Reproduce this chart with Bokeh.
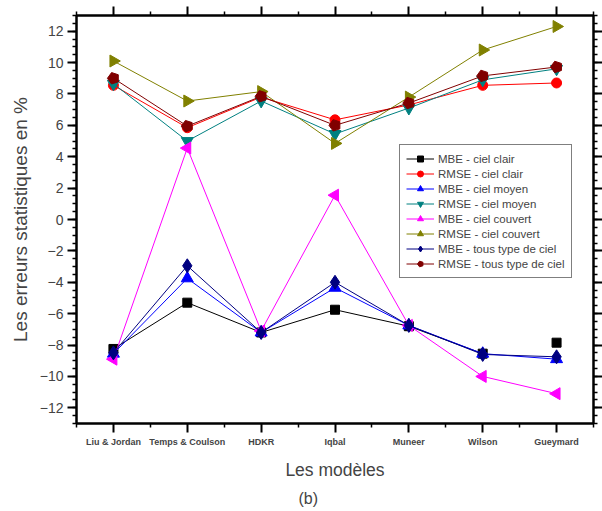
import math
from bokeh.plotting import figure
from bokeh.models import LinearAxis, FixedTicker, Range1d, Legend, LegendItem, Title
from bokeh.embed import file_html
from bokeh.resources import INLINE

models = ["Liu & Jordan", "Temps & Coulson", "HDKR", "Iqbal", "Muneer", "Wilson", "Gueymard"]
mbe_clair = [-8.25, -5.3, -7.2, -5.75, -6.8, -8.55, -7.85]
rmse_clair = [8.55, 5.85, 7.8, 6.35, 7.3, 8.55, 8.7]
mbe_moyen = [-8.55, -3.75, -7.2, -4.35, -6.75, -8.55, -8.9]
rmse_moyen = [8.65, 5.0, 7.55, 5.45, 7.1, 8.9, 9.6]
mbe_couvert = [-8.9, 4.55, -7.1, 1.55, -6.75, -10.0, -11.1]
rmse_couvert = [10.1, 7.55, 8.15, 4.85, 7.8, 10.8, 12.3]
mbe_tous = [-8.5, -2.95, -7.2, -4.0, -6.75, -8.6, -8.75]
rmse_tous = [9.0, 5.95, 7.85, 6.0, 7.42, 9.15, 9.72]

x = list(range(1, len(models) + 1))
FONT = "Liberation Sans"

p = figure(width=602, height=511, output_backend="svg", toolbar_location=None,
           x_range=Range1d(0.5, 7.5), y_range=Range1d(-13, 13),
           min_border_left=76, min_border_right=9, min_border_top=15, min_border_bottom=88,
           background_fill_color="white", border_fill_color="white")
p.grid.visible = False
p.outline_line_color = "black"
p.outline_line_width = 2

xt = FixedTicker(ticks=x, minor_ticks=[i + 0.5 for i in range(0, 8)])
yt = FixedTicker(ticks=list(range(-12, 13, 2)), minor_ticks=[v / 2 for v in range(-26, 27)])


def style_axis(ax, labels=True):
    ax.axis_line_width = 2
    ax.major_tick_line_width = 2
    ax.minor_tick_line_width = 1.5
    ax.major_tick_out = 9
    ax.major_tick_in = 0
    ax.minor_tick_out = 4
    ax.minor_tick_in = 0
    if not labels:
        ax.major_label_text_font_size = "1px"
        ax.major_label_text_color = None
        ax.major_label_standoff = 0


xa = p.xaxis[0]
xa.ticker = xt
style_axis(xa)
xa.major_label_overrides = {i: m for i, m in zip(x, models)}
xa.major_label_text_font = FONT
xa.major_label_text_font_style = "bold"
xa.major_label_text_font_size = "9px"
xa.major_label_standoff = 4
xa.axis_label = "Les modèles"
xa.axis_label_text_font = FONT
xa.axis_label_text_font_style = "normal"
xa.axis_label_text_font_size = "17.5px"
xa.axis_label_standoff = 10

ya = p.yaxis[0]
ya.ticker = yt
style_axis(ya)
ya.major_label_text_font = FONT
ya.major_label_text_font_size = "14px"
ya.major_label_standoff = 4
ya.axis_label = "Les erreurs statistiques en %"
ya.axis_label_text_font = FONT
ya.axis_label_text_font_style = "normal"
ya.axis_label_text_font_size = "19px"
ya.axis_label_standoff = 6

top = LinearAxis(ticker=xt)
style_axis(top, labels=False)
p.add_layout(top, "above")
right = LinearAxis(ticker=yt)
style_axis(right, labels=False)
p.add_layout(right, "right")

p.add_layout(Title(text="(b)", align="left", offset=222, text_font=FONT,
                   text_font_size="16px", text_font_style="normal"), "below")

items = []

# MBE - ciel clair (line stops before the last model, point shown alone)
l = p.line(x[:6], mbe_clair[:6], line_color="black", line_width=1)
s = p.scatter(x, mbe_clair, marker="square", size=9, color="black")
items.append(LegendItem(label="MBE - ciel clair", renderers=[l, s]))

l = p.line(x, rmse_clair, line_color="#FF0000", line_width=1)
s = p.scatter(x, rmse_clair, marker="circle", size=10, color="#FF0000")
items.append(LegendItem(label="RMSE - ciel clair", renderers=[l, s]))

l = p.line(x, mbe_moyen, line_color="#0000FF", line_width=1)
s = p.scatter(x, mbe_moyen, marker="triangle", size=12, color="#0000FF")
items.append(LegendItem(label="MBE - ciel moyen", renderers=[l, s]))

l = p.line(x, rmse_moyen, line_color="#008080", line_width=1)
s = p.scatter(x, rmse_moyen, marker="inverted_triangle", size=12, color="#008080")
items.append(LegendItem(label="RMSE - ciel moyen", renderers=[l, s]))

l = p.line(x, mbe_couvert, line_color="#FF00FF", line_width=1)
s = p.scatter(x, mbe_couvert, marker="triangle", angle=math.pi / 2, size=12, color="#FF00FF")
items.append(LegendItem(label="MBE - ciel couvert", renderers=[l, s]))

l = p.line(x, rmse_couvert, line_color="#808000", line_width=1)
s = p.scatter(x, rmse_couvert, marker="triangle", angle=-math.pi / 2, size=12, color="#808000")
items.append(LegendItem(label="RMSE - ciel couvert", renderers=[l, s]))

l = p.line(x, mbe_tous, line_color="#000080", line_width=1)
s = p.scatter(x, mbe_tous, marker="diamond", size=14, color="#000080")
items.append(LegendItem(label="MBE - tous type de ciel", renderers=[l, s]))

l = p.line(x, rmse_tous, line_color="#800000", line_width=1)
s = p.ngon(x=x, y=rmse_tous, radius=6, radius_units="screen", n=5,
           angle=math.pi / 2, fill_color="#800000", line_color="#800000")
items.append(LegendItem(label="RMSE - tous type de ciel", renderers=[l, s]))

legend = Legend(items=items, location=(323, 145), orientation="vertical")
legend.label_text_font = FONT
legend.label_text_font_size = "11.5px"
legend.glyph_width = 28
legend.glyph_height = 15
legend.label_height = 15
legend.label_standoff = 4
legend.spacing = 0
legend.padding = 6
legend.margin = 0
legend.border_line_color = "black"
legend.border_line_width = 1
legend.background_fill_color = "white"
legend.background_fill_alpha = 1
p.add_layout(legend, "center")

open("out.html", "w").write(file_html(p, INLINE))
